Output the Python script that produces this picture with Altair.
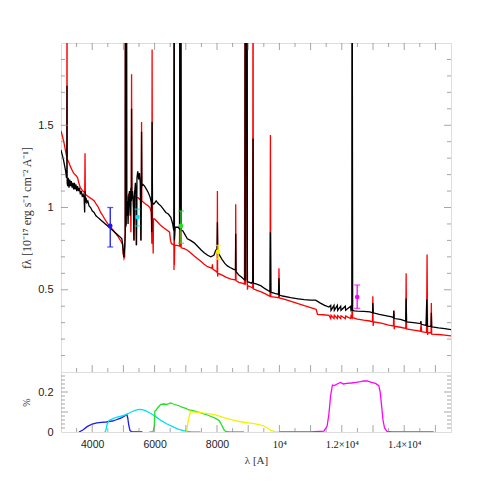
import altair as alt
import pandas as pd

# ---------------- data ----------------
black_wl = [3000, 3040, 3080, 3120, 3150, 3175, 3186, 3192, 3198, 3215, 3235, 3255, 3280, 3305, 3330, 3355,
            3380, 3405, 3430, 3455, 3480, 3505, 3530, 3560, 3590, 3620, 3650, 3680, 3710, 3740, 3758, 3766,
            3772, 3780, 3800, 3830, 3860, 3900, 3950, 4000, 4060, 4120, 4180, 4240, 4300, 4360, 4420, 4480,
            4540, 4600, 4660, 4720, 4780, 4840, 4900, 4950, 4980, 5000, 5016, 5040, 5058, 5064, 5072, 5092,
            5098, 5106, 5130, 5150, 5170, 5195, 5215, 5240, 5256, 5262, 5270, 5295, 5320, 5338, 5355, 5385,
            5405, 5420, 5435, 5460, 5490, 5515, 5540, 5560, 5574, 5582, 5592, 5630, 5680, 5740, 5800, 5860,
            5895, 5910, 5920, 5932, 5970, 6010, 6050, 6090, 6140, 6200, 6280, 6360, 6440, 6520, 6580, 6605,
            6618, 6627, 6636, 6660, 6700, 6760, 6800, 6812, 6826, 6840, 6852, 6900, 6960, 7050, 7150, 7270,
            7400, 7500, 7590, 7700, 7800, 7900, 7960, 8000, 8013, 8026, 8080, 8160, 8250, 8333, 8420, 8520,
            8592, 8600, 8610, 8700, 8800, 8867, 8895, 8905, 8918, 8940, 8960, 8975, 9040, 9100, 9145, 9155,
            9165, 9250, 9400, 9550, 9700, 9712, 9725, 9850, 9970, 9986, 10000, 10100, 10360, 10600, 10800,
            11000, 11160, 11300, 11450, 11587, 11644, 11655, 11750, 11760, 11857, 11867, 11964, 11974, 12113,
            12123, 12284, 12294, 12325, 12333, 12345, 12400, 12500, 12700, 12900, 12985, 12995, 13008, 13200,
            13400, 13600, 13655, 13667, 13680, 13880, 14050, 14062, 14075, 14300, 14520, 14535, 14550, 14700,
            14722, 14745, 14860, 14870, 14882, 14947, 15100, 15300, 15500]
black_fx = [1.35, 1.32, 1.29, 1.25, 1.22, 1.18, 1.19, 1.74, 1.15, 1.13, 1.18, 1.12, 1.17, 1.13, 1.16, 1.12,
            1.15, 1.11, 1.15, 1.11, 1.14, 1.10, 1.13, 1.10, 1.12, 1.08, 1.10, 1.07, 1.08, 1.06, 0.97, 1.07,
            1.10, 1.03, 1.06, 1.03, 1.04, 1.01, 1.00, 0.98, 0.97, 0.95, 0.94, 0.93, 0.92, 0.91, 0.90, 0.89,
            0.88, 0.87, 0.86, 0.85, 0.84, 0.83, 0.82, 0.81, 0.77, 0.72, 0.70, 0.76, 0.84, 3.0, 0.88, 0.90,
            3.0, 0.95, 1.04, 0.90, 1.06, 1.10, 0.95, 1.12, 1.04, 1.60, 1.05, 1.10, 1.00, 0.80, 1.08, 1.15,
            1.06, 0.77, 1.18, 1.22, 1.17, 1.21, 1.15, 0.80, 1.10, 1.46, 1.13, 1.14, 1.13, 1.11, 1.09, 1.06,
            1.03, 0.85, 1.52, 1.03, 1.02, 1.03, 1.04, 1.03, 1.02, 1.01, 0.99, 0.97, 0.96, 0.94, 0.90, 0.87,
            0.86, 3.0, 0.80, 0.88, 0.88, 0.88, 0.87, 3.0, 0.87, 3.0, 0.86, 0.86, 0.84, 0.81, 0.80, 0.785,
            0.76, 0.74, 0.725, 0.71, 0.70, 0.71, 0.74, 0.74, 0.91, 0.73, 0.71, 0.685, 0.66, 0.645, 0.635, 0.625,
            0.62, 0.84, 0.61, 0.59, 0.575, 0.563, 0.56, 3.0, 0.56, 3.0, 3.0, 0.55, 0.545, 0.54, 0.55, 1.42,
            0.54, 0.535, 0.525, 0.505, 0.488, 0.85, 0.485, 0.478, 0.472, 0.57, 0.468, 0.462, 0.452, 0.445, 0.44,
            0.437, 0.437, 0.42, 0.405, 0.395, 0.405, 0.375, 0.405, 0.375, 0.405, 0.375, 0.40, 0.375, 0.40,
            0.375, 0.40, 0.375, 0.38, 3.0, 0.375, 0.372, 0.37, 0.368, 0.365, 0.36, 0.42, 0.36, 0.35,
            0.343, 0.335, 0.33, 0.37, 0.325, 0.32, 0.31, 0.446, 0.305, 0.30, 0.294, 0.31, 0.29, 0.283,
            0.44, 0.278, 0.277, 0.36, 0.274, 0.273, 0.268, 0.264, 0.258]

red_wl = [3000, 3050, 3100, 3150, 3180, 3188, 3192, 3197, 3213, 3260, 3300, 3350, 3400, 3450, 3500, 3533,
          3570, 3620, 3660, 3700, 3760, 3770, 3780, 3850, 3920, 4000, 4067, 4130, 4200, 4270, 4340, 4400,
          4470, 4540, 4600, 4680, 4760, 4840, 4920, 4973, 4995, 5020, 5040, 5058, 5064, 5072, 5092, 5098,
          5106, 5140, 5170, 5200, 5225, 5240, 5252, 5262, 5272, 5300, 5330, 5340, 5352, 5400, 5412, 5425,
          5470, 5520, 5555, 5565, 5574, 5582, 5592, 5650, 5720, 5790, 5850, 5895, 5910, 5920, 5932, 5955,
          5965, 6000, 6100, 6200, 6300, 6413, 6480, 6510, 6540, 6600, 6618, 6622, 6627, 6634, 6645, 6720,
          6800, 6812, 6826, 6840, 6852, 6950, 7053, 7150, 7270, 7400, 7500, 7587, 7700, 7840, 7853, 7866,
          7950, 8005, 8013, 8020, 8030, 8150, 8300, 8450, 8592, 8600, 8610, 8700, 8800, 8880, 8905, 8918,
          8940, 8960, 8975, 8990, 9100, 9145, 9155, 9165, 9300, 9400, 9550, 9700, 9712, 9725, 9850, 9975,
          9986, 10000, 10200, 10400, 10600, 10800, 11000, 11107, 11180, 11220, 11400, 11587, 11644, 11655,
          11750, 11760, 11857, 11867, 11964, 11974, 12113, 12123, 12284, 12294, 12325, 12333, 12345, 12500,
          12700, 12900, 12985, 12995, 13005, 13015, 13300, 13500, 13655, 13667, 13680, 13690, 13880, 14050,
          14062, 14075, 14300, 14520, 14542, 14560, 14715, 14733, 14750, 14760, 14860, 14870, 14880, 15100,
          15300, 15500]
red_fx = [1.465, 1.43, 1.39, 1.34, 1.31, 1.30, 3.0, 1.29, 1.29, 1.27, 1.25, 1.23, 1.21, 1.20, 1.19, 1.18,
          1.15, 1.12, 1.11, 1.10, 1.09, 1.33, 1.08, 1.07, 1.06, 1.05, 1.04, 1.02, 1.00, 0.97, 0.95, 0.93,
          0.91, 0.89, 0.877, 0.86, 0.84, 0.82, 0.795, 0.776, 0.72, 0.69, 0.70, 0.85, 3.0, 0.95, 1.00, 3.0,
          1.02, 1.06, 1.08, 1.08, 1.07, 0.85, 1.07, 1.81, 1.07, 1.07, 1.06, 0.80, 1.06, 1.07, 0.77, 1.06,
          1.06, 1.05, 1.05, 0.80, 1.05, 1.52, 1.04, 1.03, 1.02, 1.01, 1.00, 0.97, 0.78, 1.96, 0.93, 0.72,
          0.93, 0.93, 0.91, 0.89, 0.875, 0.86, 0.85, 0.80, 0.78, 0.775, 0.77, 0.62, 3.0, 0.65, 0.77, 0.77,
          0.765, 3.0, 0.76, 3.0, 0.755, 0.75, 0.74, 0.725, 0.705, 0.685, 0.67, 0.655, 0.64, 0.63, 0.655, 0.625,
          0.615, 0.605, 1.10, 0.58, 0.60, 0.59, 0.575, 0.565, 0.56, 1.02, 0.555, 0.545, 0.54, 0.535, 3.0, 0.53,
          3.0, 3.0, 0.50, 0.525, 0.515, 0.51, 3.0, 0.505, 0.495, 0.488, 0.475, 0.46, 1.44, 0.458, 0.455, 0.452,
          0.63, 0.45, 0.44, 0.428, 0.415, 0.403, 0.392, 0.385, 0.38, 0.35, 0.348, 0.345, 0.325, 0.345,
          0.325, 0.345, 0.325, 0.343, 0.325, 0.342, 0.325, 0.34, 0.325, 0.34, 0.33, 3.0, 0.33, 0.322,
          0.315, 0.31, 0.305, 0.46, 0.28, 0.305, 0.295, 0.285, 0.28, 0.375, 0.26, 0.278, 0.272, 0.265,
          0.60, 0.262, 0.255, 0.248, 0.29, 0.245, 0.24, 0.715, 0.225, 0.24, 0.237, 0.42, 0.23, 0.228,
          0.224, 0.219]

phot_band = ["B", "V", "R", "I", "J"]
phot_wl = [4578, 5453, 6845, 8035, 12493]
phot_fx = [0.888, 0.942, 0.888, 0.731, 0.456]
phot_lo = [0.760, 0.888, 0.783, 0.686, 0.387]
phot_hi = [1.000, 0.990, 0.979, 0.770, 0.529]
phot_color = ["#1a1aee", "#00e0f0", "#22e022", "#f2f200", "#ff00ff"]

filt_B_wl = [3576, 3700, 3850, 4000, 4150, 4300, 4450, 4550, 4650, 4750, 4850, 4950, 5050, 5110, 5140,
             5170, 5210, 5260, 5400, 5610]
filt_B_tr = [0.0, 0.01, 0.028, 0.040, 0.046, 0.048, 0.050, 0.053, 0.055, 0.060, 0.066, 0.072, 0.082, 0.088,
             0.070, 0.035, 0.008, 0.001, 0.0, 0.0]
filt_V_wl = [4408, 4440, 4480, 4540, 4650, 4800, 4950, 5069, 5250, 5400, 5507, 5600, 5700, 5850, 6029,
             6200, 6400, 6563, 6750, 6989, 7200, 7470]
filt_V_tr = [0.0, 0.01, 0.04, 0.058, 0.066, 0.075, 0.080, 0.085, 0.100, 0.109, 0.113, 0.112, 0.107, 0.095,
             0.078, 0.058, 0.040, 0.028, 0.014, 0.004, 0.001, 0.0]
filt_R_wl = [5837, 5950, 5990, 6008, 6050, 6120, 6200, 6300, 6400, 6509, 6600, 6700, 6800, 6893, 7000,
             7100, 7267, 7400, 7550, 7693, 7850, 7950, 8067, 8150, 8230, 8280, 8400, 8867]
filt_R_tr = [0.0, 0.001, 0.03, 0.105, 0.110, 0.125, 0.138, 0.140, 0.138, 0.145, 0.140, 0.135, 0.130, 0.123,
             0.118, 0.110, 0.105, 0.100, 0.092, 0.085, 0.075, 0.068, 0.058, 0.035, 0.010, 0.003, 0.0, 0.0]
filt_I_wl = [6955, 7030, 7080, 7155, 7250, 7480, 7700, 7907, 8100, 8300, 8547, 8800, 9000, 9187, 9350,
             9507, 9620, 9720, 9850, 9987]
filt_I_tr = [0.0, 0.005, 0.06, 0.105, 0.100, 0.097, 0.092, 0.088, 0.078, 0.068, 0.058, 0.050, 0.046, 0.042,
             0.037, 0.030, 0.020, 0.008, 0.002, 0.0]
filt_J_wl = [10000, 10500, 11000, 11427, 11530, 11587, 11640, 11700, 11760, 11850, 11960, 12050, 12150,
             12300, 12450, 12600, 12700, 12813, 12950, 13080, 13187, 13230, 13270, 13320, 13370, 13450,
             13600, 14947]
filt_J_tr = [0.0, 0.0, 0.0, 0.004, 0.03, 0.09, 0.18, 0.235, 0.232, 0.240, 0.248, 0.240, 0.243, 0.245,
             0.248, 0.252, 0.256, 0.255, 0.248, 0.243, 0.232, 0.200, 0.140, 0.060, 0.020, 0.003, 0.0, 0.0]

x_label_values = [4000, 6000, 8000, 10000, 12000, 14000]
y_top_label_values = [0.5, 1.0, 1.5]
y_bot_label_values = [0.0, 0.1, 0.2]
x_tick_values = list(range(3500, 15001, 500))
y_top_tick_values = [round(0.1 * i, 1) for i in range(1, 20)]
y_bot_tick_values = [round(0.02 * i, 2) for i in range(1, 15)]

# ---------------- layout ----------------
W = 390
H_TOP = 329
H_BOT = 60
X_DOM = [3000, 15500]
FRAME = "#808080"
LABEL_FONT = "Liberation Sans"
TITLE_FONT = "Liberation Serif"

xs_top = alt.Scale(domain=X_DOM, nice=False, zero=False)
ys_top = alt.Scale(domain=[0, 2], nice=False, zero=False)
ys_bot = alt.Scale(domain=[0, 0.3], nice=False, zero=False)

black_df = pd.DataFrame({"wl": black_wl, "fx": black_fx, "o": range(len(black_wl))})
red_df = pd.DataFrame({"wl": red_wl, "fx": red_fx, "o": range(len(red_wl))})
phot_df = pd.DataFrame({"band": phot_band, "wl": phot_wl, "fx": phot_fx, "lo": phot_lo,
                        "hi": phot_hi, "c": phot_color})

filt_frames = []
for name, wl, tr, col in [("B", filt_B_wl, filt_B_tr, phot_color[0]),
                          ("V", filt_V_wl, filt_V_tr, phot_color[1]),
                          ("R", filt_R_wl, filt_R_tr, phot_color[2]),
                          ("I", filt_I_wl, filt_I_tr, phot_color[3]),
                          ("J", filt_J_wl, filt_J_tr, phot_color[4])]:
    filt_frames.append(pd.DataFrame({"wl": wl, "tr": tr, "band": name, "c": col, "o": range(len(wl))}))
filt_df = pd.concat(filt_frames, ignore_index=True)

xt_df = pd.DataFrame({"v": x_tick_values, "s": [14 if v % 1000 == 0 else 8 for v in x_tick_values]})
yt_top_df = pd.DataFrame({"v": y_top_tick_values,
                          "s": [14 if abs(v * 2 - round(v * 2)) < 1e-9 else 8 for v in y_top_tick_values]})
yt_bot_df = pd.DataFrame({"v": y_bot_tick_values,
                          "s": [14 if abs(v * 10 - round(v * 10)) < 1e-9 else 8 for v in y_bot_tick_values]})


def tick_layers(xscale, yscale, xdf, ydf, h, top=True):
    layers = []
    edges_y = [h] + ([0] if top else [])
    for yy in edges_y:
        layers.append(alt.Chart(xdf).mark_tick(clip=True, orient="vertical", color=FRAME, thickness=1).encode(
            x=alt.X("v:Q", scale=xscale), y=alt.value(yy), size=alt.Size("s:Q", scale=None, legend=None)))
    for xx in [0, W]:
        layers.append(alt.Chart(ydf).mark_tick(clip=True, orient="horizontal", color=FRAME, thickness=1).encode(
            y=alt.Y("v:Q", scale=yscale), x=alt.value(xx), size=alt.Size("s:Q", scale=None, legend=None)))
    return layers


y_top_axis = alt.Axis(values=y_top_label_values, format="~g", ticks=False, domain=False, grid=False,
                      labelPadding=8, labelFont=LABEL_FONT, labelFontSize=11, labelColor="#222",
                      title="f\u03bb  [10\u207b\u00b9\u2077 erg s\u207b\u00b9 cm\u207b\u00b2 A\u207b\u00b9]",
                      titleFont=TITLE_FONT, titleFontSize=12, titleFontWeight="normal",
                      titleColor="#333", titlePadding=4)

red_line = alt.Chart(red_df).mark_line(color="#ff0000", strokeWidth=1.3, clip=True).encode(
    x=alt.X("wl:Q", scale=xs_top, axis=None),
    y=alt.Y("fx:Q", scale=ys_top, axis=y_top_axis),
    order="o:Q")
black_line = alt.Chart(black_df).mark_line(color="#000000", strokeWidth=1.3, clip=True).encode(
    x=alt.X("wl:Q", scale=xs_top), y=alt.Y("fx:Q", scale=ys_top), order="o:Q")
err = alt.Chart(phot_df).mark_rule(strokeWidth=1.3).encode(
    x=alt.X("wl:Q", scale=xs_top), y=alt.Y("lo:Q", scale=ys_top), y2="hi:Q",
    color=alt.Color("c:N", scale=None))
cap_lo = alt.Chart(phot_df).mark_tick(orient="horizontal", size=6, thickness=1.3).encode(
    x=alt.X("wl:Q", scale=xs_top), y=alt.Y("lo:Q", scale=ys_top), color=alt.Color("c:N", scale=None))
cap_hi = alt.Chart(phot_df).mark_tick(orient="horizontal", size=6, thickness=1.3).encode(
    x=alt.X("wl:Q", scale=xs_top), y=alt.Y("hi:Q", scale=ys_top), color=alt.Color("c:N", scale=None))
pts = alt.Chart(phot_df).mark_point(filled=True, size=22, opacity=1).encode(
    x=alt.X("wl:Q", scale=xs_top), y=alt.Y("fx:Q", scale=ys_top), color=alt.Color("c:N", scale=None))

top = alt.layer(red_line, black_line, err, cap_lo, cap_hi, pts,
                *tick_layers(xs_top, ys_top, xt_df, yt_top_df, H_TOP, top=True)).properties(
    width=W, height=H_TOP)

x_bot_axis = alt.Axis(values=x_label_values, ticks=False, domain=False, grid=False, labelPadding=7,
                      labelFont={"condition": {"test": "datum.value >= 10000", "value": TITLE_FONT},
                                 "value": LABEL_FONT},
                      labelFontSize=10.5, labelColor="#222",
                      labelExpr="datum.value == 10000 ? '10\u2074' : datum.value == 12000 ? "
                                "'1.2\u00d710\u2074' : datum.value == 14000 ? '1.4\u00d710\u2074' : datum.label",
                      format="d",
                      title="\u03bb   [A]", titleFont=TITLE_FONT, titleFontSize=11, titleFontWeight="normal",
                      titleColor="#333", titlePadding=5)
y_bot_axis = alt.Axis(values=y_bot_label_values, format=".1~f", ticks=False, domain=False, grid=False,
                      labelPadding=8, labelFont=LABEL_FONT, labelFontSize=11, labelColor="#222",
                      title="%", titleFont=TITLE_FONT, titleFontSize=10, titleFontWeight="normal",
                      titleColor="#333", titlePadding=6)

filt = alt.Chart(filt_df).mark_line(strokeWidth=1.3, clip=True).encode(
    x=alt.X("wl:Q", scale=xs_top, axis=x_bot_axis),
    y=alt.Y("tr:Q", scale=ys_bot, axis=y_bot_axis),
    color=alt.Color("c:N", scale=None), detail="band:N", order="o:Q")

bottom = alt.layer(filt, *tick_layers(xs_top, ys_bot, xt_df, yt_bot_df, H_BOT, top=False)).properties(
    width=W, height=H_BOT)

chart = alt.vconcat(top, bottom, spacing=0, bounds="flush").properties(
    padding={"left": 12, "top": 34, "right": 5, "bottom": 5}
).configure_view(stroke=FRAME, strokeWidth=1).configure(background="white")

chart.save("out.html", embed_options={"renderer": "svg", "actions": False})
